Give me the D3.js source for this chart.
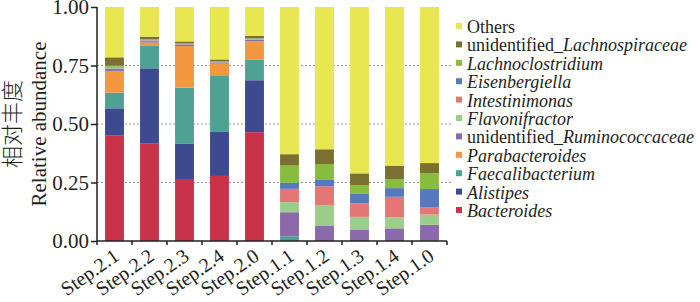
<!DOCTYPE html>
<html>
<head>
<meta charset="utf-8">
<script src="https://cdn.jsdelivr.net/npm/d3@7"></script>
<style>
  body { margin: 0; background: #fff; }
  text { font-family: "Liberation Serif", "Times New Roman", serif; fill: #231f20; }
</style>
</head>
<body>
<div id="chart"></div>
<script>
const width = 700, height = 302;
const margin = {top: 7, left: 97};
const innerWidth = 350, innerHeight = 234;

// samples on the x axis
const samples = ["Step.2.1", "Step.2.2", "Step.2.3", "Step.2.4", "Step.2.0",
                 "Step.1.1", "Step.1.2", "Step.1.3", "Step.1.4", "Step.1.0"];
const yTicks = [0, 0.25, 0.5, 0.75, 1];

// relative abundance per genus (same order as samples)
const bacteroides       = [0.450, 0.418, 0.265, 0.278, 0.465, 0, 0, 0, 0, 0];
const alistipes         = [0.117, 0.320, 0.150, 0.188, 0.222, 0, 0, 0, 0, 0];
const faecalibacterium  = [0.067, 0.098, 0.240, 0.239, 0.089, 0.020, 0, 0, 0, 0.003];
const parabacteroides   = [0.093, 0.012, 0.178, 0.053, 0.077, 0, 0, 0, 0, 0];
const ruminococcaceae   = [0.010, 0.006, 0.006, 0.004, 0.006, 0.103, 0.064, 0.047, 0.054, 0.066];
const flavonifractor    = [0.003, 0.002, 0.001, 0.001, 0.002, 0.043, 0.090, 0.056, 0.047, 0.044];
const intestinimonas    = [0.003, 0.002, 0.001, 0.001, 0.002, 0.057, 0.080, 0.058, 0.088, 0.030];
const eisenbergiella    = [0.002, 0.001, 0.001, 0.003, 0.001, 0.026, 0.027, 0.040, 0.037, 0.079];
const lachnoclostridium = [0.004, 0.003, 0.002, 0.001, 0.002, 0.073, 0.068, 0.038, 0.038, 0.068];
const lachnospiraceae   = [0.036, 0.011, 0.009, 0.008, 0.011, 0.049, 0.063, 0.050, 0.058, 0.043];
const others            = [0.215, 0.127, 0.147, 0.224, 0.123, 0.629, 0.608, 0.711, 0.678, 0.667];

// stack order bottom -> top
const generaInfo = [
  {id: "bacteroides",       pre: "",              it: "Bacteroides",       color: "#c8334a", values: bacteroides},
  {id: "alistipes",         pre: "",              it: "Alistipes",         color: "#3e4a8f", values: alistipes},
  {id: "faecalibacterium",  pre: "",              it: "Faecalibacterium",  color: "#4da293", values: faecalibacterium},
  {id: "parabacteroides",   pre: "",              it: "Parabacteroides",   color: "#f3983f", values: parabacteroides},
  {id: "ruminococcaceae",   pre: "unidentified_", it: "Ruminococcaceae",   color: "#8b6aab", values: ruminococcaceae},
  {id: "flavonifractor",    pre: "",              it: "Flavonifractor",    color: "#9dcd8a", values: flavonifractor},
  {id: "intestinimonas",    pre: "",              it: "Intestinimonas",    color: "#e47676", values: intestinimonas},
  {id: "eisenbergiella",    pre: "",              it: "Eisenbergiella",    color: "#5479bd", values: eisenbergiella},
  {id: "lachnoclostridium", pre: "",              it: "Lachnoclostridium", color: "#88bc3d", values: lachnoclostridium},
  {id: "lachnospiraceae",   pre: "unidentified_", it: "Lachnospiraceae",   color: "#7a7131", values: lachnospiraceae},
  {id: "others",            pre: "Others",        it: "",                  color: "#e8e651", values: others}
];

const data = samples.map((s, i) => {
  const row = {sample: s};
  generaInfo.forEach(g => row[g.id] = g.values[i]);
  return row;
});

const svg = d3.select("#chart")
  .append("svg")
    .attr("width", width)
    .attr("height", height);

const innerChart = svg.append("g")
  .attr("transform", `translate(${margin.left}, ${margin.top})`);

/* scales */
const xScale = d3.scaleBand()
  .domain(samples)
  .range([0, innerWidth]);
const barWidth = xScale.bandwidth() * 0.54;

const yScale = d3.scaleLinear()
  .domain([0, 1])
  .range([innerHeight, 0]);

const colorScale = d3.scaleOrdinal()
  .domain(generaInfo.map(g => g.id))
  .range(generaInfo.map(g => g.color));

/* gridlines */
innerChart.append("g")
  .selectAll("line")
  .data([0.25, 0.5, 0.75])
  .join("line")
    .attr("x1", 0)
    .attr("x2", innerWidth + 4)
    .attr("y1", d => yScale(d))
    .attr("y2", d => yScale(d))
    .attr("stroke", "#9a9a9a")
    .attr("stroke-width", 1)
    .attr("stroke-dasharray", "2,2");

/* stacked bars */
const stackGenerator = d3.stack().keys(generaInfo.map(g => g.id));
const annotatedData = stackGenerator(data);

innerChart.append("g")
  .selectAll("g")
  .data(annotatedData)
  .join("g")
    .attr("fill", d => colorScale(d.key))
  .selectAll("rect")
  .data(d => d)
  .join("rect")
    .attr("x", d => xScale(d.data.sample) + (xScale.bandwidth() - barWidth) / 2)
    .attr("width", barWidth)
    .attr("y", d => yScale(d[1]))
    .attr("height", d => yScale(d[0]) - yScale(d[1]));

/* axes */
const leftAxis = d3.axisLeft(yScale)
  .tickValues(yTicks)
  .tickFormat(d3.format(".2f"))
  .tickSize(6)
  .tickPadding(2);
const yAxisG = innerChart.append("g").call(leftAxis);
yAxisG.select(".domain").attr("d", `M0,0V${innerHeight}`);
yAxisG.selectAll("path, line").attr("stroke", "#231f20").attr("stroke-width", 1.5);
yAxisG.selectAll("text")
  .attr("font-size", 21)
  .attr("fill", "#231f20");

const bottomAxis = d3.axisBottom(xScale).tickSize(0).tickFormat("");
const xAxisG = innerChart.append("g")
  .attr("transform", `translate(0, ${innerHeight})`)
  .call(bottomAxis);
xAxisG.select(".domain").attr("d", `M0,0H${innerWidth}`)
  .attr("stroke", "#231f20").attr("stroke-width", 1.5);

// ticks between bars
const edges = samples.map(s => xScale(s)).concat([innerWidth]);
xAxisG.selectAll(".edge")
  .data(edges)
  .join("line")
    .attr("class", "edge")
    .attr("x1", d => d).attr("x2", d => d)
    .attr("y1", 0).attr("y2", 4)
    .attr("stroke", "#231f20")
    .attr("stroke-width", 1.5);

xAxisG.selectAll(".xlabel")
  .data(samples)
  .join("text")
    .attr("class", "xlabel")
    .attr("text-anchor", "end")
    .attr("font-size", 20)
    .attr("transform", d => `translate(${xScale(d) + xScale.bandwidth() / 2 + 6}, 18) rotate(-35)`)
    .text(d => d);

/* y titles */
svg.append("text")
  .attr("transform", `translate(46, ${margin.top + innerHeight / 2}) rotate(-90)`)
  .attr("text-anchor", "middle")
  .attr("font-size", 21)
  .text("Relative abundance");

svg.append("text")
  .attr("transform", `translate(20, ${margin.top + innerHeight / 2}) rotate(-90)`)
  .attr("text-anchor", "middle")
  .attr("font-size", 22)
  .style("font-family", "'Noto Sans CJK SC', sans-serif")
  .style("font-weight", 300)
  .text("相对丰度");

/* legend (top entry = top of stack) */
const legend = svg.append("g")
  .attr("transform", "translate(456, 33)");
const legendItems = legend.selectAll("g")
  .data(generaInfo.slice().reverse())
  .join("g")
    .attr("transform", (d, i) => `translate(0, ${i * 18.4})`);
legendItems.append("rect")
  .attr("x", 0).attr("y", -10)
  .attr("width", 6).attr("height", 6)
  .attr("fill", d => d.color);
const legendText = legendItems.append("text")
  .attr("x", 11)
  .attr("font-size", 18);
legendText.append("tspan").text(d => d.pre);
legendText.append("tspan").attr("font-style", "italic").text(d => d.it);
</script>
</body>
</html>
